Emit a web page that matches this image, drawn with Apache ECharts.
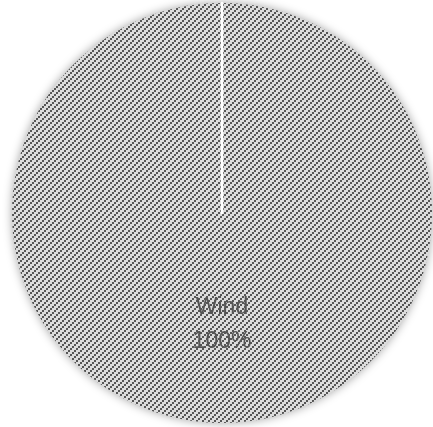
<!DOCTYPE html>
<html>
<head>
<meta charset="utf-8">
<script src="https://cdn.jsdelivr.net/npm/echarts@6/dist/echarts.min.js"></script>
<style>html,body{margin:0;padding:0;background:#fff;}#c{width:433px;height:427px;}</style>
</head>
<body>
<div id="c"></div>
<script>
var categories = ['Wind', 'Other'];
var values = [100, 0];

function makeTile() {
  var c = document.createElement('canvas');
  c.width = 6; c.height = 6;
  var g = c.getContext('2d');
  g.fillStyle = '#dcdcdc';
  g.fillRect(0, 0, 6, 6);
  g.fillStyle = '#555555';
  g.fillRect(4, 0, 2, 2);
  g.fillRect(2, 2, 2, 2);
  g.fillRect(0, 4, 2, 2);
  return c;
}
var tile = makeTile();

var chart = echarts.init(document.getElementById('c'), null, {renderer: 'canvas'});
chart.setOption({
  animation: false,
  series: [{
    type: 'pie',
    center: [222, 213],
    radius: ['0%', 210],
    startAngle: 90,
    minShowLabelAngle: 1,
    data: categories.map(function (c, i) {
      var d = { name: c, value: values[i] };
      if (values[i] === 0) {
        d.itemStyle = { borderColor: '#ffffff', borderWidth: 2.5, shadowBlur: 0, shadowColor: 'transparent' };
        d.label = { show: false };
      }
      return d;
    }),
    itemStyle: {
      color: { image: tile, repeat: 'repeat' },
      shadowBlur: 10,
      shadowColor: 'rgba(0,0,0,0.35)'
    },
    label: {
      show: true,
      position: 'inner',
      formatter: '{b}\n{d}%',
      fontSize: 23,
      lineHeight: 34,
      offset: [0, 4],
      color: '#555555',
      fontFamily: 'sans-serif'
    },
    labelLine: { show: false }
  }]
});
</script>
</body>
</html>
